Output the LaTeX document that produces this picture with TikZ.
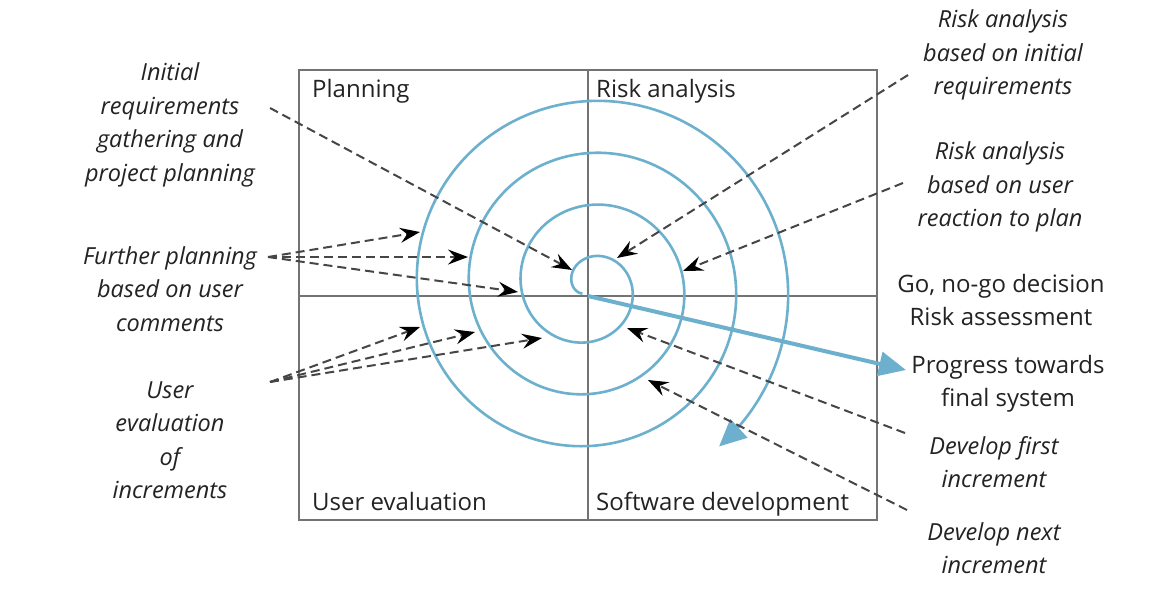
\documentclass[tikz,border=0pt]{standalone}
\usepackage{fontspec}
\setmainfont{Open Sans}
\usetikzlibrary{arrows.meta}
\definecolor{spiralc}{RGB}{108,176,206}
\definecolor{gridc}{RGB}{115,115,115}
\definecolor{dashc}{RGB}{70,70,70}
\definecolor{txtc}{RGB}{35,35,35}
\begin{document}
\begin{tikzpicture}[x=1pt,y=-1pt,
  note/.style={font=\fontsize{23.5}{33.5}\selectfont\itshape, align=center, text=txtc, inner sep=0pt},
  plain/.style={font=\fontsize{24}{33}\selectfont, align=center, text=txtc, inner sep=0pt},
  quad/.style={font=\fontsize{24}{28}\selectfont, text=txtc, inner sep=0pt, anchor=base west},
  gridline/.style={draw=gridc, line width=1.8pt},
  dashline/.style={draw=dashc, line width=2pt, dash pattern=on 9pt off 5pt,
     -{Stealth[length=20pt,width=15pt,inset=7pt,black]}},
  spiralline/.style={draw=spiralc, line width=2.6pt},
  bigarrow/.style={draw=spiralc, line width=4pt, -{Triangle[length=27pt,width=24pt,spiralc]}}
]
\useasboundingbox[fill=white] (0,0) rectangle (1164,598);

% quadrant box
\draw[gridline] (299,70) rectangle (877,520);
\draw[gridline] (588,70) -- (588,520);
\draw[gridline] (299,296) -- (877,296);

% quadrant titles
\node[quad] (qp) at (312,97) {Planning};
\node[quad] (qr) at (596,97) {Risk analysis};
\node[quad] (qu) at (312,510) {User evaluation};
\node[quad] (qs) at (596,510) {Software development};

% spiral
\draw[spiralline, -{Triangle[length=27pt,width=25pt,spiralc]}]
  plot[domain=-405:951, samples=400, variable=\t, smooth]
  ({589.5 - (68.5+0.144444*\t)*cos(\t)}, {286.5 - (68.5+0.144444*\t)*sin(\t)});

% progress arrow
\coordinate (c) at (588,296);
\coordinate (pt) at (906,370);
\draw[bigarrow] (c) -- (pt);

% labels
\node[note] (init) at (170,125) {Initial\\requirements\\gathering and\\project planning};
\node[note] (furt) at (170,289) {Further planning\\based on user\\comments};
\node[note] (ueval) at (170,440) {User\\evaluation\\of\\increments};
\node[note] (rinit) at (1003,55) {Risk analysis\\based on initial\\requirements};
\node[note] (ruser) at (1000,187) {Risk analysis\\based on user\\reaction to plan};
\node[plain] (gonogo) at (1001,300) {Go, no-go decision\\Risk assessment};
\node[plain] (prog) at (1008,384) {Progress towards\\final system};
\node[note] (dfirst) at (994,462) {Develop first\\increment};
\node[note] (dnext) at (994,548) {Develop next\\increment};

% connector end points
\coordinate (is) at (270,108);  \coordinate (it) at (572,270);
\coordinate (fs) at (268,257);
\coordinate (f1) at (420,232);  \coordinate (f2) at (468,257);  \coordinate (f3) at (518,292);
\coordinate (us) at (270,382);
\coordinate (u1) at (420,327);  \coordinate (u2) at (475,332);  \coordinate (u3) at (542,338);
\coordinate (r1s) at (908,75);  \coordinate (r1t) at (617,258);
\coordinate (r2s) at (903,183); \coordinate (r2t) at (683,271);
\coordinate (d1s) at (905,433); \coordinate (d1t) at (627,328);
\coordinate (d2s) at (907,510); \coordinate (d2t) at (648,380);

% dashed connectors
\draw[dashline] (is) -- (it);
\draw[dashline] (fs) -- (f1);
\draw[dashline] (fs) -- (f2);
\draw[dashline] (fs) -- (f3);
\draw[dashline] (us) -- (u1);
\draw[dashline] (us) -- (u2);
\draw[dashline] (us) -- (u3);
\draw[dashline] (r1s) -- (r1t);
\draw[dashline] (r2s) -- (r2t);
\draw[dashline] (d1s) -- (d1t);
\draw[dashline] (d2s) -- (d2t);
\end{tikzpicture}
\end{document}
